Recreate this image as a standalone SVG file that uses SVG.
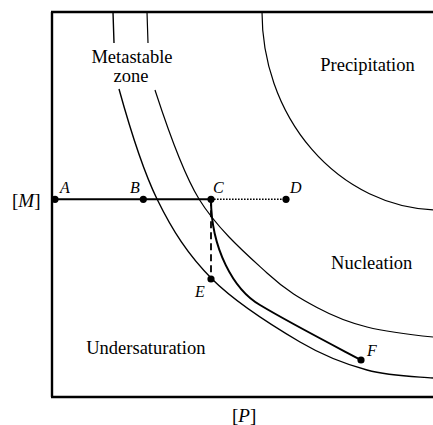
<svg xmlns="http://www.w3.org/2000/svg" width="433" height="425" viewBox="0 0 433 425">
<style>
.frame{fill:none;stroke:#000;stroke-width:2.4}
.curve{fill:none;stroke:#000;stroke-width:1.4}
.thin{fill:none;stroke:#000;stroke-width:1.2}
.path{fill:none;stroke:#000;stroke-width:2}
.dot{fill:#000}
text{font-family:'Liberation Serif','Times New Roman',serif;fill:#000}
.lbl{font-size:18.5px}
.pt{font-size:16px;font-style:italic}
.ax{font-size:19px}
</style>
<rect width="433" height="425" fill="#fff"/>
<g id="axes">
<path class="frame" d="M52,12 V397 M51,12 H433 M51,397 H433"/>
<text class="ax" x="12" y="207" font-family="'Liberation Serif',serif">[<tspan font-style="italic">M</tspan>]</text>
<text class="ax" x="232" y="422" font-family="'Liberation Serif',serif">[<tspan font-style="italic">P</tspan>]</text>
</g>
<g id="connectors">
<path id="solubility" class="curve" d="M113,12 L114,43 M119,89 C126.2,115 141.5,167.3 157,199 C172.5,230.7 188.2,255.2 212,279 C235.8,302.8 274.2,326.8 300,342 C325.8,357.2 344.8,364 367,370 C389.2,376 411,376.3 433,378"/>
<path id="nucleation-boundary" class="thin" d="M147,12 L148,43 M155,90 C163.5,116 180.3,168.5 199,199 C217.7,229.5 247.2,254.8 267,273 C286.8,291.2 301.3,299 318,308 C334.7,317 347.8,322.2 367,327 C386.2,331.8 411,334.8 433,337"/>
<path id="precipitation-boundary" class="thin" d="M262,12 A178,198 0 0 0 433,209.85"/>
<path id="A-C" class="path" d="M55,199.3 H211"/>
<path id="C-D" fill="none" stroke="#000" stroke-width="1.6" stroke-dasharray="1.6 1.4" d="M211,199.3 H286"/>
<path id="C-E" fill="none" stroke="#000" stroke-width="1.8" stroke-dasharray="7 4" d="M211,199.3 V279"/>
<path id="C-F" class="path" d="M211,199 C211,249 234,290 260,305 C290,323 334.6,346 361,360"/>
</g>
<g id="regions">
<text class="lbl" x="132" y="63" text-anchor="middle" font-size="17.5" font-family="'Liberation Serif',serif">Metastable</text>
<text class="lbl" x="131" y="82" text-anchor="middle" font-size="17.5" font-family="'Liberation Serif',serif">zone</text>
<text class="lbl" x="367.5" y="71" text-anchor="middle" font-family="'Liberation Serif',serif">Precipitation</text>
<text class="lbl" x="371.7" y="269" text-anchor="middle" font-family="'Liberation Serif',serif">Nucleation</text>
<text class="lbl" x="145.8" y="354" text-anchor="middle" font-family="'Liberation Serif',serif">Undersaturation</text>
</g>
<g id="node-A"><circle class="dot" cx="55" cy="199.3" r="3.6"/><text class="pt" x="60" y="193" font-family="'Liberation Serif',serif">A</text></g>
<g id="node-B"><circle class="dot" cx="143.3" cy="199.3" r="3.6"/><text class="pt" x="130" y="193" font-family="'Liberation Serif',serif">B</text></g>
<g id="node-C"><circle class="dot" cx="211" cy="199.3" r="3.6"/><text class="pt" x="213" y="193" font-family="'Liberation Serif',serif">C</text></g>
<g id="node-D"><circle class="dot" cx="286" cy="199.3" r="3.6"/><text class="pt" x="290" y="193" font-family="'Liberation Serif',serif">D</text></g>
<g id="node-E"><circle class="dot" cx="211" cy="279" r="3.6"/><text class="pt" x="195" y="297" font-family="'Liberation Serif',serif">E</text></g>
<g id="node-F"><circle class="dot" cx="361" cy="360" r="3.6"/><text class="pt" x="367" y="356" font-family="'Liberation Serif',serif">F</text></g>
</svg>
